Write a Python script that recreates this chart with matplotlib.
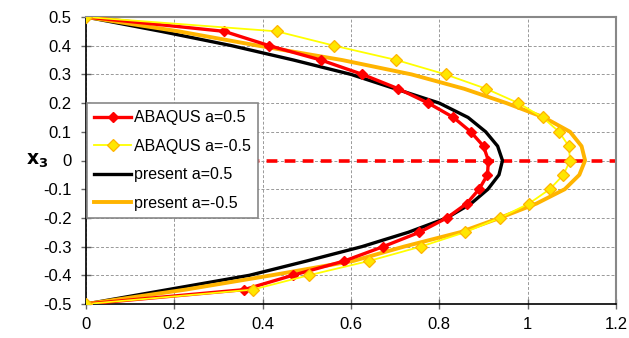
import matplotlib
matplotlib.use("Agg")
import matplotlib.pyplot as plt

plt.rcParams['font.family'] = ['Liberation Sans', 'DejaVu Sans']

# y positions (thickness coordinate x3)
y_levels = [0.5, 0.45, 0.4, 0.35, 0.3, 0.25, 0.2, 0.15, 0.1, 0.05, 0.0,
            -0.05, -0.1, -0.15, -0.2, -0.25, -0.3, -0.35, -0.4, -0.45, -0.5]

abaqus_pos = [0.0, 0.313, 0.415, 0.532, 0.626, 0.707, 0.775, 0.832, 0.871, 0.900, 0.911,
              0.909, 0.890, 0.862, 0.817, 0.755, 0.673, 0.585, 0.468, 0.358, 0.0]
abaqus_neg = [0.0, 0.432, 0.562, 0.703, 0.814, 0.906, 0.979, 1.034, 1.071, 1.093, 1.096,
              1.081, 1.050, 1.003, 0.937, 0.858, 0.758, 0.641, 0.504, 0.377, 0.0]
present_pos = [0.0, 0.17, 0.33, 0.47, 0.60, 0.70, 0.80, 0.865, 0.905, 0.932, 0.943,
               0.935, 0.910, 0.872, 0.817, 0.73, 0.625, 0.50, 0.37, 0.185, 0.0]
present_neg = [0.0, 0.21, 0.39, 0.58, 0.737, 0.856, 0.952, 1.037, 1.096, 1.122, 1.13,
               1.117, 1.084, 1.02, 0.937, 0.847, 0.72, 0.605, 0.42, 0.225, 0.0]

x_ticks = [0, 0.2, 0.4, 0.6, 0.8, 1.0, 1.2]
x_tick_labels = ["0", "0.2", "0.4", "0.6", "0.8", "1", "1.2"]
y_ticks = [0.5, 0.4, 0.3, 0.2, 0.1, 0.0, -0.1, -0.2, -0.3, -0.4, -0.5]
y_tick_labels = ["0.5", "0.4", "0.3", "0.2", "0.1", "0", "-0.1", "-0.2", "-0.3", "-0.4", "-0.5"]

fig = plt.figure(figsize=(6.29, 3.38), dpi=100)
ax = fig.add_axes([86/629, 1-304/338, (616-86)/629, (304-17)/338])

ax.set_xlim(0, 1.2)
ax.set_ylim(-0.5, 0.5)

ax.set_xticks(x_ticks)
ax.set_xticklabels(x_tick_labels)
ax.set_yticks(y_ticks)
ax.set_yticklabels(y_tick_labels)
ax.tick_params(axis='both', labelsize=12, direction='inout', length=7, width=1,
               color='#666666')
ax.tick_params(axis='y', pad=7)
ax.tick_params(axis='x', pad=6)
ax.grid(True, color='#999999', linestyle=(0, (3, 2)), linewidth=0.7)
ax.set_axisbelow(True)

for s in ['top', 'right']:
    ax.spines[s].set_color('#888888')
    ax.spines[s].set_linewidth(1.5)
for s in ['left', 'bottom']:
    ax.spines[s].set_color('black')
    ax.spines[s].set_linewidth(1.2)

# dashed zero line
ax.axhline(0, color='#FF0000', linestyle=(0, (3, 2)), linewidth=2.6, zorder=2)

l1, = ax.plot(abaqus_pos, y_levels, color='#FF0000', linewidth=2.4, marker='D',
              markersize=5.5, markerfacecolor='#FF0000', markeredgecolor='#FF0000', zorder=4,
              label='ABAQUS a=0.5')
l2, = ax.plot(abaqus_neg, y_levels, color='#FFFF00', linewidth=1.3, marker='D',
              markersize=6, markerfacecolor='#FFE600', markeredgecolor='#FFB400',
              markeredgewidth=0.9, zorder=5, label='ABAQUS a=-0.5')
l3, = ax.plot(present_pos, y_levels, color='black', linewidth=2.4, zorder=3,
              label='present a=0.5')
l4, = ax.plot(present_neg, y_levels, color='#FFB400', linewidth=2.8, zorder=3,
              label='present a=-0.5')

leg = ax.legend(handles=[l1, l2, l3, l4], loc='upper left',
                bbox_to_anchor=(0.002, 0.70), fontsize=11.5, frameon=True,
                fancybox=False, edgecolor='#888888', framealpha=1,
                handlelength=2.3, borderpad=0.45, labelspacing=0.85,
                handletextpad=0.2, borderaxespad=0.0)
leg.get_frame().set_linewidth(1.2)
leg.set_zorder(10)

fig.text(37/629, 1-161/338, r'$\mathbf{x_3}$', fontsize=13.5, ha='center', va='center',
         fontweight='bold')

fig.savefig('out.png', dpi=100)
